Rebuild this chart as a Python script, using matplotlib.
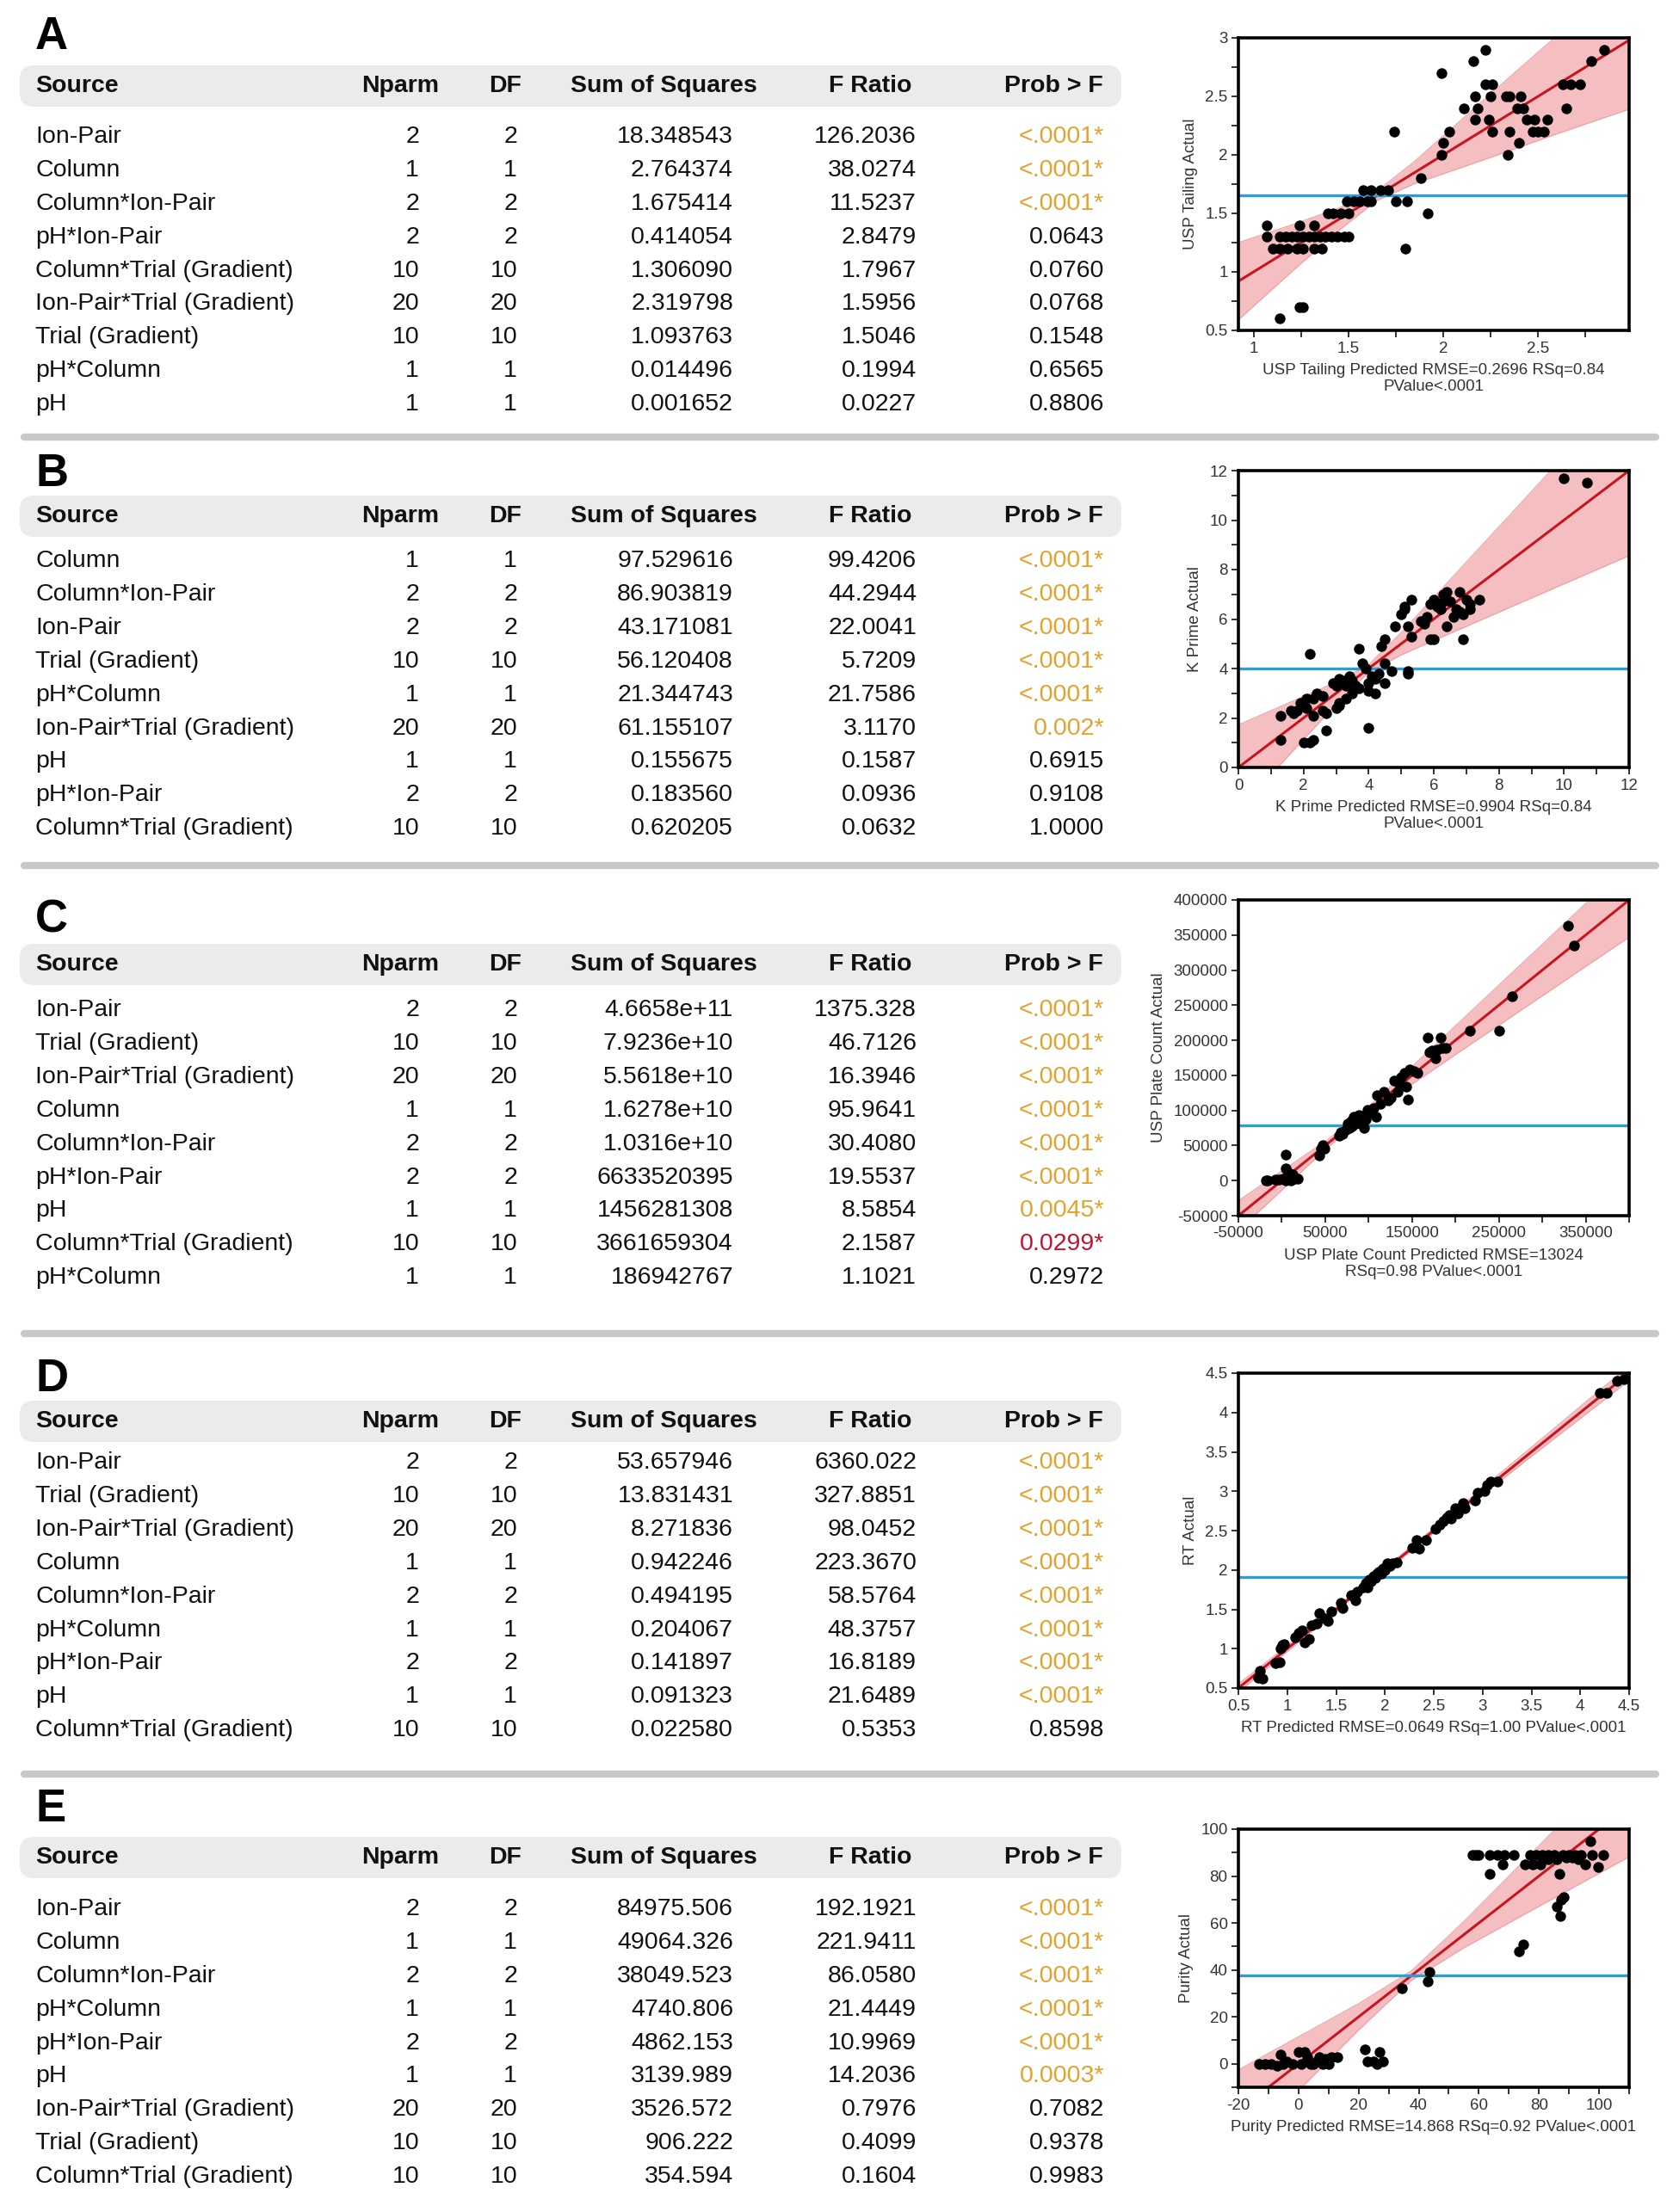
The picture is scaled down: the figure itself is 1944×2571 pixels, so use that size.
import matplotlib
matplotlib.use('Agg')
import matplotlib.pyplot as plt
from matplotlib import font_manager
from matplotlib.patches import FancyBboxPatch
from matplotlib.ticker import MultipleLocator, FixedLocator, FuncFormatter

plt.rcParams['font.family'] = ['Liberation Sans', 'DejaVu Sans']

# the plot text in the original is a narrow sans; use it if it is installed
font_names = {f.name for f in font_manager.fontManager.ttflist}
if 'Liberation Sans Narrow' in font_names:
    plot_font = ['Liberation Sans Narrow', 'Liberation Sans']
    plot_fs = 15.5
else:
    plot_font = ['Liberation Sans', 'DejaVu Sans']
    plot_fs = 13.5

# ---------------- table data ----------------
headers = ['Source', 'Nparm', 'DF', 'Sum of Squares', 'F Ratio', 'Prob > F']

a_source = ['Ion-Pair', 'Column', 'Column*Ion-Pair', 'pH*Ion-Pair', 'Column*Trial (Gradient)',
            'Ion-Pair*Trial (Gradient)', 'Trial (Gradient)', 'pH*Column', 'pH']
a_nparm = [2, 1, 2, 2, 10, 20, 10, 1, 1]
a_ss = ['18.348543', '2.764374', '1.675414', '0.414054', '1.306090', '2.319798', '1.093763', '0.014496', '0.001652']
a_f = ['126.2036', '38.0274', '11.5237', '2.8479', '1.7967', '1.5956', '1.5046', '0.1994', '0.0227']
a_p = ['<.0001*', '<.0001*', '<.0001*', '0.0643', '0.0760', '0.0768', '0.1548', '0.6565', '0.8806']

b_source = ['Column', 'Column*Ion-Pair', 'Ion-Pair', 'Trial (Gradient)', 'pH*Column',
            'Ion-Pair*Trial (Gradient)', 'pH', 'pH*Ion-Pair', 'Column*Trial (Gradient)']
b_nparm = [1, 2, 2, 10, 1, 20, 1, 2, 10]
b_ss = ['97.529616', '86.903819', '43.171081', '56.120408', '21.344743', '61.155107', '0.155675', '0.183560', '0.620205']
b_f = ['99.4206', '44.2944', '22.0041', '5.7209', '21.7586', '3.1170', '0.1587', '0.0936', '0.0632']
b_p = ['<.0001*', '<.0001*', '<.0001*', '<.0001*', '<.0001*', '0.002*', '0.6915', '0.9108', '1.0000']

c_source = ['Ion-Pair', 'Trial (Gradient)', 'Ion-Pair*Trial (Gradient)', 'Column', 'Column*Ion-Pair',
            'pH*Ion-Pair', 'pH', 'Column*Trial (Gradient)', 'pH*Column']
c_nparm = [2, 10, 20, 1, 2, 2, 1, 10, 1]
c_ss = ['4.6658e+11', '7.9236e+10', '5.5618e+10', '1.6278e+10', '1.0316e+10', '6633520395', '1456281308', '3661659304', '186942767']
c_f = ['1375.328', '46.7126', '16.3946', '95.9641', '30.4080', '19.5537', '8.5854', '2.1587', '1.1021']
c_p = ['<.0001*', '<.0001*', '<.0001*', '<.0001*', '<.0001*', '<.0001*', '0.0045*', '0.0299*', '0.2972']

d_source = ['Ion-Pair', 'Trial (Gradient)', 'Ion-Pair*Trial (Gradient)', 'Column', 'Column*Ion-Pair',
            'pH*Column', 'pH*Ion-Pair', 'pH', 'Column*Trial (Gradient)']
d_nparm = [2, 10, 20, 1, 2, 1, 2, 1, 10]
d_ss = ['53.657946', '13.831431', '8.271836', '0.942246', '0.494195', '0.204067', '0.141897', '0.091323', '0.022580']
d_f = ['6360.022', '327.8851', '98.0452', '223.3670', '58.5764', '48.3757', '16.8189', '21.6489', '0.5353']
d_p = ['<.0001*', '<.0001*', '<.0001*', '<.0001*', '<.0001*', '<.0001*', '<.0001*', '<.0001*', '0.8598']

e_source = ['Ion-Pair', 'Column', 'Column*Ion-Pair', 'pH*Column', 'pH*Ion-Pair', 'pH',
            'Ion-Pair*Trial (Gradient)', 'Trial (Gradient)', 'Column*Trial (Gradient)']
e_nparm = [2, 1, 2, 1, 2, 1, 20, 10, 10]
e_ss = ['84975.506', '49064.326', '38049.523', '4740.806', '4862.153', '3139.989', '3526.572', '906.222', '354.594']
e_f = ['192.1921', '221.9411', '86.0580', '21.4449', '10.9969', '14.2036', '0.7976', '0.4099', '0.1604']
e_p = ['<.0001*', '<.0001*', '<.0001*', '<.0001*', '<.0001*', '0.0003*', '0.7082', '0.9378', '0.9983']

# ---------------- actual by predicted data ----------------
a_pred = [1.07, 1.24, 1.32,
          1.07, 1.14, 1.17, 1.20, 1.23, 1.26, 1.29, 1.32, 1.35, 1.38, 1.41, 1.44, 1.48, 1.50,
          1.10, 1.14, 1.18, 1.23, 1.26, 1.32, 1.36, 1.80,
          1.39, 1.42, 1.46, 1.50, 1.92,
          1.49, 1.53, 1.56, 1.60, 1.62, 1.75, 1.81,
          1.58, 1.62, 1.67, 1.71,
          1.24, 1.26, 1.14,
          1.74, 2.03, 2.26, 2.35, 2.47, 2.50, 2.53,
          1.88, 1.99, 2.34, 2.00, 2.40, 1.99,
          2.11, 2.18, 2.39, 2.42, 2.65,
          2.17, 2.24, 2.44, 2.48, 2.55,
          2.17, 2.25, 2.33, 2.35, 2.41,
          2.22, 2.26, 2.63, 2.67, 2.72,
          2.16, 2.78, 2.22, 2.85]
a_act = [1.4, 1.4, 1.4,
         1.3, 1.3, 1.3, 1.3, 1.3, 1.3, 1.3, 1.3, 1.3, 1.3, 1.3, 1.3, 1.3, 1.3,
         1.2, 1.2, 1.2, 1.2, 1.2, 1.2, 1.2, 1.2,
         1.5, 1.5, 1.5, 1.5, 1.5,
         1.6, 1.6, 1.6, 1.6, 1.6, 1.6, 1.6,
         1.7, 1.7, 1.7, 1.7,
         0.7, 0.7, 0.6,
         2.2, 2.2, 2.2, 2.2, 2.2, 2.2, 2.2,
         1.8, 2.0, 2.0, 2.1, 2.1, 2.7,
         2.4, 2.4, 2.4, 2.4, 2.4,
         2.3, 2.3, 2.3, 2.3, 2.3,
         2.5, 2.5, 2.5, 2.5, 2.5,
         2.6, 2.6, 2.6, 2.6, 2.6,
         2.8, 2.8, 2.9, 2.9]

b_pred = [1.3, 1.3, 1.6, 1.7, 1.8, 1.9, 2.0, 2.1, 2.1, 2.2, 2.2, 2.3, 2.3, 2.3, 2.4, 2.6, 2.6, 2.7, 2.7,
          2.9, 3.0, 3.0, 3.1, 3.1, 3.1, 3.2, 3.3, 3.3, 3.4, 3.5, 3.5, 3.6, 3.7, 3.7, 3.8, 3.9, 4.0,
          4.0, 4.0, 4.1, 4.2, 4.2, 4.3, 4.4, 4.5, 4.5, 4.5, 4.7, 4.8, 5.0, 5.1, 5.1, 5.2, 5.2, 5.2,
          5.3, 5.3, 5.6, 5.7, 5.8, 5.9, 5.9, 6.0, 6.0, 6.1, 6.2, 6.3, 6.3, 6.4, 6.4, 6.5, 6.6, 6.7,
          6.8, 6.8, 6.9, 6.9, 7.0, 7.1, 7.1, 7.4, 10.0, 10.7]
b_act = [2.1, 1.1, 2.3, 2.2, 2.3, 2.6, 1.0, 2.8, 2.4, 1.0, 4.6, 2.1, 2.8, 1.1, 3.0, 2.9, 2.3, 2.2, 1.5,
         3.4, 2.4, 3.3, 2.6, 3.6, 2.5, 3.5, 3.3, 2.8, 3.7, 3.0, 3.5, 3.3, 4.8, 3.2, 4.2, 4.0, 3.4,
         3.1, 1.6, 3.7, 3.0, 3.6, 3.8, 4.9, 5.2, 3.4, 4.2, 3.9, 5.7, 6.2, 6.5, 6.4, 5.7, 3.9, 3.8,
         6.8, 5.3, 5.9, 5.8, 6.1, 5.2, 6.6, 6.8, 5.2, 6.5, 6.4, 6.7, 7.0, 5.7, 7.1, 6.7, 6.1, 6.4,
         7.1, 6.3, 6.2, 5.2, 6.8, 6.6, 6.4, 6.8, 11.7, 11.5]

c_pred = [-18000, -16000, -7000, -3000, 2000, 5000, 5000, 5000, 7000, 9000, 10000, 12000, 14000, 18000,
          43000, 45000, 47000, 49000,
          66000, 68000, 70000, 74000, 76000, 78000, 80000, 81000, 83000, 85000, 87000, 89000, 92000,
          95000, 97000, 99000, 102000, 106000, 109000, 110000, 114000, 118000, 122000, 125000, 129000,
          133000, 135000, 137000, 141000, 143000, 145000, 147000, 152000, 156000,
          168000, 170000, 173000, 177000, 179000, 183000, 185000, 189000,
          217000, 250000, 265000, 330000, 337000]
c_act = [0, 0, 1000, 1000, 3000, 0, 17000, 37000, 11000, 5000, 0, 9000, 3000, 3000,
         36000, 46000, 50000, 46000,
         64000, 69000, 67000, 73000, 81000, 75000, 85000, 77000, 91000, 81000, 89000, 93000, 81000,
         75000, 87000, 101000, 97000, 103000, 91000, 122000, 109000, 126000, 114000, 118000, 142000,
         126000, 138000, 148000, 154000, 134000, 116000, 159000, 156000, 154000,
         204000, 183000, 185000, 175000, 187000, 204000, 189000, 189000,
         214000, 214000, 263000, 363000, 335000]

d_pred = [0.70, 0.72, 0.75, 0.88, 0.92, 0.93, 0.95, 0.97, 1.08, 1.12, 1.15, 1.18, 1.22, 1.25, 1.30,
          1.33, 1.38, 1.42, 1.45, 1.55, 1.57, 1.65, 1.70, 1.72, 1.78, 1.80, 1.82, 1.84, 1.86, 1.88,
          1.90, 1.92, 1.94, 1.96, 1.98, 2.00, 2.02, 2.05, 2.08, 2.12, 2.28, 2.32, 2.35, 2.42, 2.52,
          2.56, 2.60, 2.63, 2.66, 2.68, 2.72, 2.75, 2.80, 2.82, 2.92, 2.95, 3.02, 3.05, 3.08, 3.15,
          4.20, 4.27, 4.38, 4.45]
d_act = [0.63, 0.72, 0.62, 0.82, 0.83, 1.00, 1.05, 1.06, 1.15, 1.20, 1.23, 1.08, 1.12, 1.30, 1.32,
         1.45, 1.38, 1.35, 1.47, 1.58, 1.52, 1.68, 1.62, 1.72, 1.78, 1.83, 1.78, 1.88, 1.85, 1.92,
         1.90, 1.95, 1.98, 1.95, 2.02, 2.00, 2.08, 2.05, 2.08, 2.10, 2.28, 2.38, 2.27, 2.38, 2.52,
         2.58, 2.62, 2.66, 2.70, 2.65, 2.78, 2.72, 2.85, 2.78, 2.88, 2.98, 3.00, 3.08, 3.12, 3.12,
         4.25, 4.25, 4.40, 4.42]

e_pred = [-13, -11, -9, -7, -6, -5, -4, -2, 0, 1, 2, 3, 4, 5, 6, 7, 8, 9, 10, 11, 13,
          22, 23, 25, 26, 27, 28,
          34.4, 42.9, 43.6, 73.4, 74.7,
          58, 59, 60, 63.5, 66.2, 68.4, 71.7, 77, 79, 81, 83, 85, 88, 90, 92, 94, 97.6, 101.4,
          67.9, 75.3, 77.8, 80.5, 95.4, 99.6, 63.7, 86.9, 83, 86, 89, 91, 93, 97,
          88.2, 87.3, 86.0, 87.1]
e_act = [0, 0, 0, -1, 4, 0, 1, 0, 5, 0, 5, 3, 0, 0, 1, 3, 0, 2, 0, 3, 3,
         6, 1, 1, 0, 5, 1,
         32, 35, 39, 48, 51,
         89, 89, 89, 89, 89, 89, 89, 89, 89, 89, 89, 89, 89, 89, 89, 89, 89, 89,
         85, 85, 85, 85, 85, 84, 81, 81, 87, 87, 88, 88, 87, 95,
         71, 70, 67, 63]

# model line (slope, intercept), mean of actual, confidence curves
fit_line = [(1.0, 0.0)] * 5
mean_act = [1.655, 4.0, 79000, 1.91, 37.6]
band_x = [[0.92, 1.2, 1.45, 1.65, 1.85, 2.2, 2.6, 2.98],
          [0, 2, 3, 4, 5, 6, 9, 12],
          [-50000, 0, 50000, 79000, 110000, 200000, 300000, 400000],
          [0.5, 1.2, 1.91, 2.6, 3.5, 4.5],
          [-20, 0, 20, 37.6, 55, 80, 110]]
band_lo = [[0.59, 1.00, 1.355, 1.61, 1.755, 1.95, 2.18, 2.39],
           [-1.72, 1.13, 2.55, 3.85, 4.55, 5.13, 6.85, 8.56],
           [-71300, -13600, 44100, 75000, 103600, 179600, 263300, 347000],
           [0.447, 1.169, 1.89, 2.569, 3.442, 4.407],
           [-37.4, -11.5, 14.4, 35.6, 49.4, 67.1, 88.2]]
band_hi = [[1.25, 1.40, 1.545, 1.69, 1.945, 2.45, 3.02, 3.57],
           [1.72, 2.87, 3.45, 4.15, 5.45, 6.87, 11.15, 15.44],
           [-28700, 13600, 55900, 83000, 116400, 220400, 336700, 453000],
           [0.553, 1.231, 1.93, 2.631, 3.558, 4.593],
           [-2.6, 11.5, 25.6, 39.6, 60.6, 92.9, 131.8]]

ylabels = ['USP Tailing Actual', 'K Prime Actual', 'USP Plate Count Actual', 'RT Actual', 'Purity Actual']
xlabels = ['USP Tailing Predicted RMSE=0.2696 RSq=0.84\nPValue<.0001',
           'K Prime Predicted RMSE=0.9904 RSq=0.84\nPValue<.0001',
           'USP Plate Count Predicted RMSE=13024\nRSq=0.98 PValue<.0001',
           'RT Predicted RMSE=0.0649 RSq=1.00 PValue<.0001',
           'Purity Predicted RMSE=14.868 RSq=0.92 PValue<.0001']
letters = ['A', 'B', 'C', 'D', 'E']

# ---------------- layout (pixels) ----------------
W, H = 1944, 2571
letter_y = [43, 551, 1070, 1603, 2103]
head_y = [100, 600, 1121, 1652, 2159]
row0_y = [159, 652, 1174, 1700, 2219]
row_step = 38.9
sep_y = [508, 1006, 1550, 2062]
frames = [(44, 384), (547, 892), (1046, 1413), (1596, 1962), (2126, 2426)]
frame_l, frame_r = 1439, 1893
col_right = [None, 510, 606, 880, 1059, 1282]
val_right = [None, 487, 601, 852, 1065, 1283]

ORANGE = '#e3a22c'
RED = '#c8102e'
TXT = '#111111'

fig = plt.figure(figsize=(W / 100, H / 100), dpi=100)
bg = fig.add_axes([0, 0, 1, 1], zorder=0)
bg.set_xlim(0, W)
bg.set_ylim(H, 0)
bg.axis('off')

for y in sep_y:
    bg.plot([28, 1924], [y, y], color='#c8c8c8', lw=6, solid_capstyle='round')

tables = [(a_source, a_nparm, a_ss, a_f, a_p), (b_source, b_nparm, b_ss, b_f, b_p),
          (c_source, c_nparm, c_ss, c_f, c_p), (d_source, d_nparm, d_ss, d_f, d_p),
          (e_source, e_nparm, e_ss, e_f, e_p)]

for k, (src, nparm, ss, fr, pv) in enumerate(tables):
    bg.text(41, letter_y[k], letters[k], fontsize=38, fontweight='bold', ha='left', va='center', color='#000')
    bg.add_patch(FancyBboxPatch((23, head_y[k] - 24), 1280, 48,
                                boxstyle='round,pad=0,rounding_size=16', fc='#ebebeb', ec='none'))
    bg.text(41, head_y[k], headers[0], fontsize=20.5, fontweight='bold', ha='left', va='center', color=TXT)
    for j in range(1, 6):
        bg.text(col_right[j], head_y[k], headers[j], fontsize=20.5, fontweight='bold',
                ha='right', va='center', color=TXT)
    for i in range(len(src)):
        y = row0_y[k] + i * row_step
        p = pv[i]
        if p.endswith('*'):
            pval = float(p.strip('<*'))
            pcol = ORANGE if pval < 0.01 else RED
        else:
            pcol = TXT
        vals = [str(nparm[i]), str(nparm[i]), ss[i], fr[i], p]
        bg.text(41, y, src[i], fontsize=20.5, ha='left', va='center', color=TXT)
        for j, v in enumerate(vals, start=1):
            bg.text(val_right[j], y, v, fontsize=20.5, ha='right', va='center',
                    color=pcol if j == 5 else TXT)

# ---------------- scatter panels ----------------
preds = [a_pred, b_pred, c_pred, d_pred, e_pred]
acts = [a_act, b_act, c_act, d_act, e_act]
xlims = [(0.92, 2.98), (0, 12), (-50000, 400000), (0.5, 4.5), (-20, 110)]
ylims = [(0.5, 3), (0, 12), (-50000, 400000), (0.5, 4.5), (-10, 100)]
xmajor = [[1, 1.5, 2, 2.5], [0, 2, 4, 6, 8, 10, 12], [-50000, 50000, 150000, 250000, 350000],
          [0.5, 1, 1.5, 2, 2.5, 3, 3.5, 4, 4.5], [-20, 0, 20, 40, 60, 80, 100]]
xminor = [0.25, 1, 50000, None, 10]
ymajor = [0.5, 2, 50000, 0.5, 20]
yminor = [0.25, 1, None, None, 10]

fmt = FuncFormatter(lambda v, _: f'{v:g}' if abs(v) < 1000 else f'{v:.0f}')

for k in range(5):
    top, bot = frames[k]
    ax = fig.add_axes([frame_l / W, 1 - bot / H, (frame_r - frame_l) / W, (bot - top) / H], zorder=2)
    ax.fill_between(band_x[k], band_lo[k], band_hi[k], color='#f5bfc2', lw=0, zorder=1)
    ax.plot(band_x[k], band_lo[k], color='#eea3a8', lw=0.9, zorder=1)
    ax.plot(band_x[k], band_hi[k], color='#eea3a8', lw=0.9, zorder=1)
    slope, icpt = fit_line[k]
    ax.axline((0, icpt), slope=slope, color='#c8141e', lw=2.2, zorder=2)
    ax.axhline(mean_act[k], color='#2a9fd6', lw=2.4, zorder=2)
    ax.scatter(preds[k], acts[k], s=80, color='black', linewidths=0, zorder=3)
    ax.set_xlim(xlims[k])
    ax.set_ylim(ylims[k])
    ax.xaxis.set_major_locator(FixedLocator(xmajor[k]))
    if xminor[k]:
        ax.xaxis.set_minor_locator(MultipleLocator(xminor[k]))
    ax.yaxis.set_major_locator(MultipleLocator(ymajor[k]))
    if yminor[k]:
        ax.yaxis.set_minor_locator(MultipleLocator(yminor[k]))
    ax.xaxis.set_major_formatter(fmt)
    ax.yaxis.set_major_formatter(fmt)
    for s in ax.spines.values():
        s.set_linewidth(2.6)
        s.set_color('black')
    ax.tick_params(which='both', direction='out', length=6, width=1.3, color='#222222',
                   labelsize=plot_fs, labelcolor='#333333', pad=3)
    for lab in ax.get_xticklabels() + ax.get_yticklabels():
        lab.set_family(plot_font)
    ax.set_xlabel(xlabels[k], fontsize=plot_fs, family=plot_font, color='#333333',
                  labelpad=6, linespacing=1.15)
    ax.set_ylabel(ylabels[k], fontsize=plot_fs, family=plot_font, color='#333333', labelpad=6)

fig.savefig('out.png', dpi=100)
